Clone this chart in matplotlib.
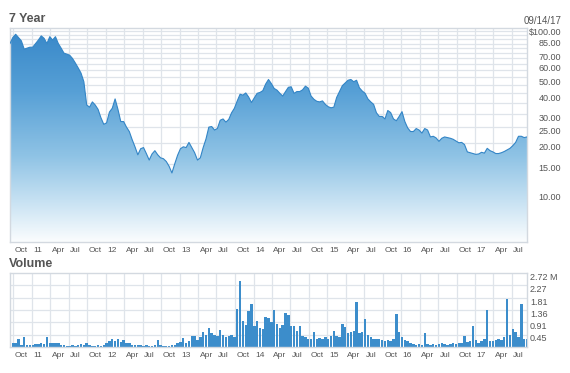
"""
7-year price / volume chart (log price panel with gradient fill, volume bars)
"""
import matplotlib
matplotlib.use("Agg")
import matplotlib.pyplot as plt
import matplotlib.dates as mdates
import matplotlib.transforms as mtransforms
from matplotlib.colors import LinearSegmentedColormap
from matplotlib.patches import Polygon
import numpy as np
import pandas as pd

plt.rcParams["font.family"] = ["Liberation Sans", "DejaVu Sans"]

START = "2010-09-14"
END = "2017-09-14"
STAMP = "09/14/17"

# closing price ($), read roughly every two weeks
PRICE = [
    80, 87, 91, 87, 83, 74, 75, 76, 76, 80,
    84, 89, 86, 80, 88, 84, 88, 80, 75, 70,
    69, 68, 65, 61, 57, 53, 47, 34, 33, 35.5,
    34, 32, 28.5, 26, 26.5, 30.8, 32.5, 37, 32, 27,
    27, 25, 23.5, 21, 19, 17, 18.5, 18.8, 17.3, 15.8,
    17.2, 18, 17, 16.3, 16.1, 15.5, 14.5, 13.2, 15, 16.9,
    18.5, 19, 18.8, 20.2, 18.8, 17.5, 15.8, 16.3, 18.8, 21.2,
    25, 25.2, 24, 24.5, 27.5, 28, 26.8, 27.8, 30.5, 32.5,
    36, 39.5, 39, 40.2, 38, 35.2, 37.5, 40, 40.5, 41.5,
    45.5, 48.5, 45.8, 42.8, 41.8, 40, 38.5, 41, 43.5, 43.8,
    40, 41, 41, 42, 44.2, 43, 38.5, 36.8, 35.8, 35.5,
    36, 34.3, 33.2, 32.7, 33, 37.8, 41, 44.5, 46.2, 48,
    48.5, 47, 48, 43.2, 41.3, 40, 37, 35.5, 34.3, 30.5,
    29, 29, 28, 31.5, 30.6, 28, 27.3, 29, 31, 27,
    24.7, 23.5, 23.5, 24.5, 24, 23, 24.5, 24, 21.8, 22,
    21.5, 20.5, 21.4, 21.8, 21.6, 21.4, 21.1, 20.6, 20.1, 20.2,
    19.6, 17.7, 17.5, 17.3, 17.1, 17.2, 17.6, 17.4, 18.6, 18,
    17.7, 17.3, 17.3, 17.5, 17.8, 18.2, 18.6, 19.3, 20.2, 22,
    22, 21.6, 21.8,
]

# volume (millions of shares), same sampling
VOLUME = [
    0.10, 0.15, 0.12, 0.28, 0.08, 0.35, 0.06, 0.05, 0.08, 0.10,
    0.10, 0.12, 0.10, 0.36, 0.15, 0.14, 0.15, 0.12, 0.08, 0.05,
    0.04, 0.03, 0.05, 0.04, 0.06, 0.10, 0.05, 0.14, 0.06, 0.04,
    0.03, 0.05, 0.04, 0.08, 0.12, 0.22, 0.30, 0.20, 0.28, 0.18,
    0.25, 0.12, 0.15, 0.06, 0.05, 0.08, 0.06, 0.04, 0.05, 0.04,
    0.03, 0.05, 0.25, 0.05, 0.04, 0.03, 0.04, 0.05, 0.08, 0.12,
    0.18, 0.32, 0.15, 0.20, 0.38, 0.40, 0.25, 0.35, 0.55, 0.42,
    0.70, 0.50, 0.45, 0.40, 0.62, 0.45, 0.35, 0.38, 0.42, 0.36,
    1.40, 2.45, 0.95, 0.80, 1.33, 1.60, 0.75, 0.96, 0.70, 0.65,
    1.10, 1.05, 0.90, 1.37, 0.85, 0.70, 0.80, 1.25, 1.18, 0.75,
    0.78, 0.60, 0.78, 0.40, 0.35, 0.30, 0.30, 0.53, 0.30, 0.32,
    0.28, 0.35, 0.30, 0.40, 0.60, 0.40, 0.35, 0.84, 0.72, 0.50,
    0.55, 0.60, 1.64, 0.50, 0.55, 1.03, 0.45, 0.35, 0.30, 0.30,
    0.28, 0.25, 0.22, 0.25, 0.22, 0.30, 1.20, 0.55, 0.35, 0.25,
    0.20, 0.12, 0.10, 0.08, 0.10, 0.08, 0.50, 0.10, 0.08, 0.10,
    0.08, 0.10, 0.12, 0.10, 0.08, 0.10, 0.12, 0.10, 0.12, 0.15,
    0.41, 0.18, 0.20, 0.76, 0.25, 0.15, 0.20, 0.30, 1.35, 0.20,
    0.22, 0.25, 0.30, 0.25, 0.35, 1.76, 0.45, 0.65, 0.55, 0.35,
    1.57, 0.30, 0.30,
]

PRICE_TICKS = [100, 85, 70, 60, 50, 40, 30, 25, 20, 15, 10]
VOL_TICKS = [0.45, 0.91, 1.36, 1.81, 2.27, 2.72]
VOL_MAX = 2.72
PRICE_LIM = (5.05, 100)

TEXT = "#555555"
GRID = "#dfe4ea"
BORDER = "#d3d9e0"
LINE = "#3385c6"
BAR = "#3c8dcb"

fig = plt.figure(figsize=(5.70, 3.73), dpi=100)
W, H = 570.0, 373.0


def px(dx, dy):
    return mtransforms.ScaledTranslation(dx / 100.0, dy / 100.0, fig.dpi_scale_trans)


def frame(top, bottom, left=10, right=527):
    return [left / W, 1 - bottom / H, (right - left) / W, (bottom - top) / H]


ax = fig.add_axes(frame(27.5, 242))
axv = fig.add_axes(frame(273.3, 346.7))

dates = pd.date_range(START, END, periods=len(PRICE))
xnum = mdates.date2num(dates)
x0, x1 = mdates.date2num(pd.Timestamp(START)), mdates.date2num(pd.Timestamp(END))
quarters = pd.date_range("2010-10-01", "2017-07-01", freq="QS")
qnum = mdates.date2num(quarters)
qlabels = [f"{d.year % 100:02d}" if d.month == 1 else d.strftime("%b") for d in quarters]

# ---- price panel ----
ax.set_yscale("log")
ax.set_autoscale_on(False)
ax.set_xlim(x0, x1)
ax.set_ylim(*PRICE_LIM)
for v in np.arange(10, 100, 5):
    ax.axhline(v, color=GRID, lw=0.9, zorder=0)
for q in qnum:
    ax.axvline(q, color=GRID, lw=0.9, zorder=0)

cmap = LinearSegmentedColormap.from_list("fade", [
    (0.0, "#3787c8"), (0.3, "#57a0d6"), (0.6, "#8fc3e5"),
    (0.8, "#c4e0f2"), (1.0, "#fbfdfe")])
verts = [(xnum[0], PRICE_LIM[0])] + list(zip(xnum, PRICE)) + [(xnum[-1], PRICE_LIM[0])]
poly = Polygon(verts, closed=True, facecolor="none", edgecolor="none", transform=ax.transData)
ax.add_patch(poly)
grad = np.linspace(0, 1, 256).reshape(-1, 1)
im = ax.imshow(grad, cmap=cmap, aspect="auto", extent=[0, 1, 0, 1],
               transform=ax.transAxes, origin="upper", zorder=2)
im.set_clip_path(poly)
ax.plot(xnum, PRICE, color=LINE, lw=0.8, zorder=3)
ax.set_xlim(x0, x1)
ax.set_ylim(*PRICE_LIM)

# ---- volume panel ----
axv.set_xlim(x0, x1)
axv.set_ylim(0, VOL_MAX)
for v in VOL_TICKS[:-1]:
    axv.axhline(v, color=GRID, lw=0.9, zorder=0)
for q in qnum:
    axv.axvline(q, color=GRID, lw=0.9, zorder=0)
axv.bar(xnum, VOLUME, width=12, color=BAR, linewidth=0, zorder=2)

for a in (ax, axv):
    a.set_xticks([])
    a.set_yticks([])
    a.minorticks_off()
    for s in a.spines.values():
        s.set_color(BORDER)
        s.set_linewidth(1.0)

# x labels, left aligned just after each quarter line
for a, dy in ((ax, -8), (axv, -9)):
    tr = mtransforms.blended_transform_factory(a.transData, a.transAxes) + px(1.5, dy)
    for q, lab in zip(qnum, qlabels):
        a.text(q, 0, lab, transform=tr, ha="left", va="center", fontsize=6, color=TEXT)

# price labels, right aligned under each grid line
trp = mtransforms.blended_transform_factory(fig.transFigure, ax.transData) + px(0, -4.8)
for v in PRICE_TICKS:
    lab = f"${v:.2f}" if v == 100 else f"{v:.2f}"
    ax.text(561 / W, v, lab, transform=trp, ha="right", va="center",
            fontsize=6.5, color=TEXT, clip_on=False)

# volume labels
trv = mtransforms.blended_transform_factory(fig.transFigure, axv.transData) + px(0, -4.3)
for v in VOL_TICKS:
    lab = f"{v:.2f} M" if v == VOL_MAX else f"{v:.2f}"
    axv.text(530 / W, v, lab, transform=trv, ha="left", va="center",
             fontsize=6.5, color=TEXT, clip_on=False)

fig.text(9 / W, 1 - 19.5 / H, "7 Year", ha="left", va="center",
         fontsize=9, fontweight="bold", color=TEXT)
fig.text(9 / W, 1 - 264 / H, "Volume", ha="left", va="center",
         fontsize=9, fontweight="bold", color=TEXT)
fig.text(561 / W, 1 - 20.7 / H, STAMP, ha="right", va="center", fontsize=7, color=TEXT)

fig.savefig("out.png", dpi=100, facecolor="white")
